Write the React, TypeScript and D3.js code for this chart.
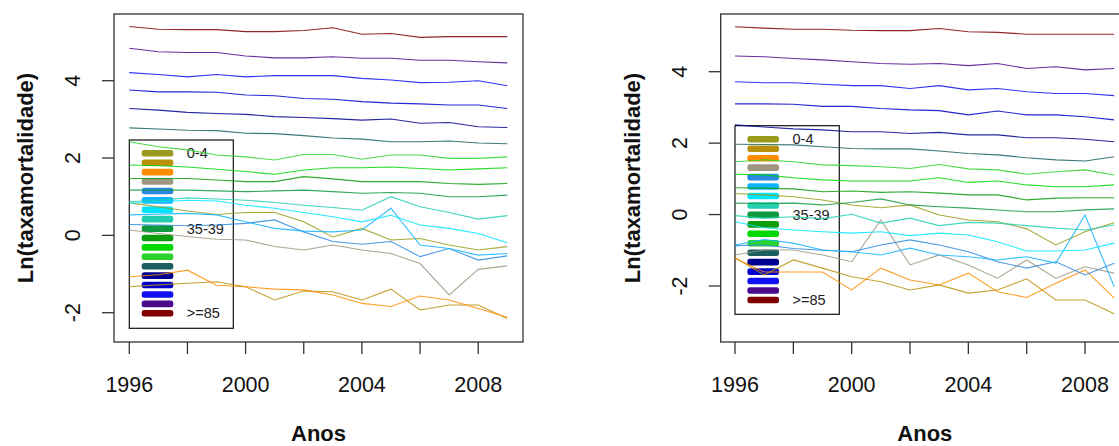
import React from 'react';
import * as d3 from 'd3';

// anos observados
const anos = [1996, 1997, 1998, 1999, 2000, 2001, 2002, 2003, 2004, 2005, 2006, 2007, 2008, 2009];

const faixas = ['0-4', '5-9', '10-14', '15-19', '20-24', '25-29', '30-34', '35-39', '40-44',
  '45-49', '50-54', '55-59', '60-64', '65-69', '70-74', '75-79', '80-84', '>=85'];

const cores = ['#9a9a1a', '#b8900b', '#ff8c00', '#9e9680', '#2b88e0', '#10b4ff', '#00e5ff',
  '#22d0b0', '#109a40', '#0c9c0c', '#00d800', '#2ad32a', '#1a6060', '#000090', '#0000cc',
  '#1010f0', '#4c0a8c', '#800000'];

// só alguns rótulos aparecem na legenda original
const legendaTexto = ['0-4', '', '', '', '', '', '', '', '35-39', '', '', '', '', '', '', '', '', '>=85'];

const ticksX = [1996, 1998, 2000, 2002, 2004, 2006, 2008];
const rotulosX = [1996, 2000, 2004, 2008];
const ticksY = [-2, 0, 2, 4];

// painel da esquerda: ln(taxa de mortalidade) por faixa etária
const taxasA = [
  [0.84, 0.74, 0.63, 0.54, 0.59, 0.59, 0.35, -0.04, 0.18, -0.12, -0.08, -0.25, -0.38, -0.29],
  [-1.33, -1.28, -1.24, -1.20, -1.33, -1.67, -1.44, -1.46, -1.67, -1.39, -1.93, -1.80, -1.80, -2.15],
  [-1.07, -1.02, -0.90, -1.29, -1.33, -1.39, -1.41, -1.54, -1.76, -1.84, -1.57, -1.67, -1.89, -2.12],
  [0.14, 0.05, -0.03, -0.10, -0.12, -0.29, -0.38, -0.25, -0.38, -0.47, -0.73, -1.54, -0.88, -0.79],
  [0.28, 0.27, 0.25, 0.27, 0.31, 0.40, 0.09, -0.16, -0.23, -0.16, -0.55, -0.34, -0.64, -0.53],
  [0.53, 0.55, 0.57, 0.53, 0.35, 0.18, 0.11, 0.09, 0.14, 0.70, -0.25, -0.34, -0.51, -0.47],
  [0.83, 0.87, 0.91, 0.89, 0.78, 0.70, 0.59, 0.48, 0.35, 0.52, 0.27, 0.18, 0.05, -0.19],
  [0.87, 0.91, 0.97, 0.94, 0.91, 0.85, 0.78, 0.72, 0.65, 1.00, 0.74, 0.59, 0.42, 0.51],
  [1.17, 1.17, 1.17, 1.15, 1.13, 1.15, 1.17, 1.13, 1.09, 1.11, 1.09, 1.00, 1.00, 1.04],
  [1.47, 1.47, 1.47, 1.43, 1.39, 1.39, 1.52, 1.46, 1.39, 1.39, 1.39, 1.34, 1.32, 1.34],
  [1.82, 1.80, 1.77, 1.71, 1.65, 1.58, 1.69, 1.75, 1.75, 1.77, 1.73, 1.69, 1.72, 1.75],
  [2.42, 2.29, 2.21, 2.08, 2.03, 1.95, 2.09, 2.09, 1.97, 2.08, 2.08, 1.99, 1.99, 2.03],
  [2.78, 2.75, 2.72, 2.71, 2.64, 2.63, 2.58, 2.52, 2.49, 2.42, 2.42, 2.44, 2.39, 2.37],
  [3.28, 3.24, 3.18, 3.15, 3.13, 3.07, 3.05, 3.02, 2.98, 3.01, 2.90, 2.92, 2.81, 2.79],
  [3.76, 3.71, 3.71, 3.70, 3.63, 3.61, 3.54, 3.52, 3.46, 3.42, 3.40, 3.37, 3.37, 3.28],
  [4.21, 4.16, 4.10, 4.16, 4.10, 4.13, 4.13, 4.13, 4.06, 4.02, 3.95, 3.96, 4.00, 3.87],
  [4.84, 4.75, 4.73, 4.73, 4.64, 4.59, 4.59, 4.62, 4.58, 4.58, 4.53, 4.53, 4.49, 4.46],
  [5.40, 5.33, 5.32, 5.32, 5.27, 5.27, 5.30, 5.37, 5.20, 5.22, 5.12, 5.14, 5.14, 5.14],
];

// painel da direita
const taxasB = [
  [0.59, 0.55, 0.50, 0.41, 0.27, 0.19, 0.27, -0.01, -0.15, -0.20, -0.40, -0.85, -0.48, -0.23],
  [-1.21, -1.69, -1.27, -1.50, -1.74, -1.88, -2.11, -1.97, -2.20, -2.11, -1.80, -2.39, -2.39, -2.78],
  [-1.22, -1.61, -1.61, -1.61, -2.11, -1.50, -1.83, -1.97, -1.64, -2.16, -2.32, -1.92, -1.55, -2.34],
  [-1.13, -0.99, -0.99, -1.13, -1.32, -0.15, -1.41, -1.13, -1.41, -1.78, -1.27, -1.78, -1.46, -1.64],
  [-0.87, -0.85, -0.95, -1.00, -1.04, -0.85, -0.71, -0.85, -1.04, -1.32, -1.50, -1.32, -1.69, -1.36],
  [-0.85, -0.70, -0.80, -0.99, -1.04, -1.13, -0.94, -1.13, -1.18, -1.27, -1.18, -1.36, -0.01, -2.02],
  [-0.20, -0.37, -0.43, -0.48, -0.52, -0.48, -0.59, -0.52, -0.57, -0.76, -1.02, -1.02, -0.99, -0.80],
  [-0.03, -0.10, -0.06, -0.12, 0.01, -0.24, -0.10, -0.31, -0.22, -0.24, -0.31, -0.38, -0.43, -0.29],
  [0.32, 0.31, 0.32, 0.27, 0.34, 0.44, 0.27, 0.22, 0.18, 0.13, 0.08, 0.08, 0.13, 0.16],
  [0.75, 0.74, 0.72, 0.64, 0.66, 0.62, 0.64, 0.60, 0.55, 0.55, 0.41, 0.46, 0.47, 0.47],
  [1.13, 1.11, 1.03, 0.97, 0.94, 0.94, 0.94, 1.03, 0.90, 0.94, 0.83, 0.78, 0.78, 0.83],
  [1.48, 1.53, 1.48, 1.39, 1.37, 1.34, 1.29, 1.40, 1.28, 1.25, 1.13, 1.20, 1.25, 1.11],
  [1.97, 1.96, 1.95, 1.90, 1.85, 1.84, 1.84, 1.78, 1.71, 1.67, 1.59, 1.53, 1.50, 1.62],
  [2.51, 2.45, 2.40, 2.37, 2.32, 2.32, 2.27, 2.30, 2.23, 2.23, 2.15, 2.15, 2.11, 2.04],
  [3.10, 3.10, 3.09, 3.03, 3.03, 2.97, 2.93, 2.91, 2.79, 2.90, 2.79, 2.79, 2.74, 2.65],
  [3.72, 3.69, 3.69, 3.65, 3.61, 3.61, 3.53, 3.61, 3.49, 3.53, 3.44, 3.39, 3.39, 3.33],
  [4.44, 4.42, 4.37, 4.33, 4.28, 4.23, 4.21, 4.23, 4.17, 4.23, 4.09, 4.14, 4.05, 4.09],
  [5.26, 5.22, 5.19, 5.19, 5.16, 5.15, 5.15, 5.21, 5.12, 5.10, 5.05, 5.05, 5.05, 5.05],
];

const FONTE = 'Liberation Sans, Arial, sans-serif';

function Painel({ dados, box, xr, yr, leg }) {
  const x = d3.scaleLinear().domain([1996, 2009]).range(xr);
  const y = d3.scaleLinear().domain([-2, 4]).range(yr);
  const linha = d3.line<number>().x((_, i) => x(anos[i])).y(d => y(d));
  const [bx0, bx1, by0, by1] = box;
  const cx = (bx0 + bx1) / 2;
  const cy = (by0 + by1) / 2;

  return (
    <g>
      {/* legenda (sem fundo, as linhas passam por cima) */}
      <rect x={leg.x} y={leg.y} width={leg.w} height={leg.h} fill="none" stroke="#111" strokeWidth={1.2} />
      {faixas.map((f, i) => (
        <g key={f}>
          <rect x={leg.x + 12.4} y={leg.top + i * leg.step - 3.3} width={31.6} height={6.6} rx={2.5} fill={cores[i]} />
          {legendaTexto[i] && (
            <text x={leg.x + 57.5} y={leg.top + i * leg.step + 5} fontSize={14.5} fill="#222" fontFamily={FONTE}>
              {legendaTexto[i]}
            </text>
          )}
        </g>
      ))}

      {dados.map((serie, i) => (
        <path key={i} d={linha(serie)} fill="none" stroke={cores[i]} strokeWidth={1.1} strokeOpacity={0.85} />
      ))}

      <rect x={bx0} y={by0} width={bx1 - bx0} height={by1 - by0} fill="none" stroke="#333" strokeWidth={1.3} />

      {/* eixo x */}
      {ticksX.map(t => (
        <line key={t} x1={x(t)} x2={x(t)} y1={by1} y2={by1 + 12} stroke="#333" strokeWidth={1.3} />
      ))}
      {rotulosX.map(t => (
        <text key={t} x={x(t)} y={391.5} textAnchor="middle" fontSize={21.5} fill="#111" fontFamily={FONTE}>
          {t}
        </text>
      ))}
      <text x={cx} y={440.5} textAnchor="middle" fontSize={22} fontWeight="bold" fill="#111" fontFamily={FONTE}>
        Anos
      </text>

      {/* eixo y */}
      {ticksY.map(t => (
        <g key={t}>
          <line x1={bx0 - 12} x2={bx0} y1={y(t)} y2={y(t)} stroke="#333" strokeWidth={1.3} />
          <text transform={`translate(${bx0 - 34},${y(t)}) rotate(-90)`} textAnchor="middle"
            fontSize={21.5} fill="#111" fontFamily={FONTE}>
            {t}
          </text>
        </g>
      ))}
      <text transform={`translate(${bx0 - 81},${cy}) rotate(-90)`} textAnchor="middle"
        fontSize={22} fontWeight="bold" fill="#111" fontFamily={FONTE}>
        Ln(taxamortalidade)
      </text>
    </g>
  );
}

export default function App() {
  return (
    <svg width={1119} height={446} style={{ position: 'absolute', left: 0, top: 0, background: '#fff' }}>
      <Painel
        dados={taxasA}
        box={[114, 523, 14, 342]}
        xr={[129.3, 507.3]}
        yr={[312.7, 80.7]}
        leg={{ x: 129.3, y: 140, w: 104, h: 188.3, top: 153.3, step: 9.41 }}
      />
      <Painel
        dados={taxasB}
        box={[720.7, 1129, 14, 342]}
        xr={[735, 1114.2]}
        yr={[286, 71.7]}
        leg={{ x: 735, y: 125.7, w: 104.3, h: 188.6, top: 139.3, step: 9.45 }}
      />
    </svg>
  );
}
